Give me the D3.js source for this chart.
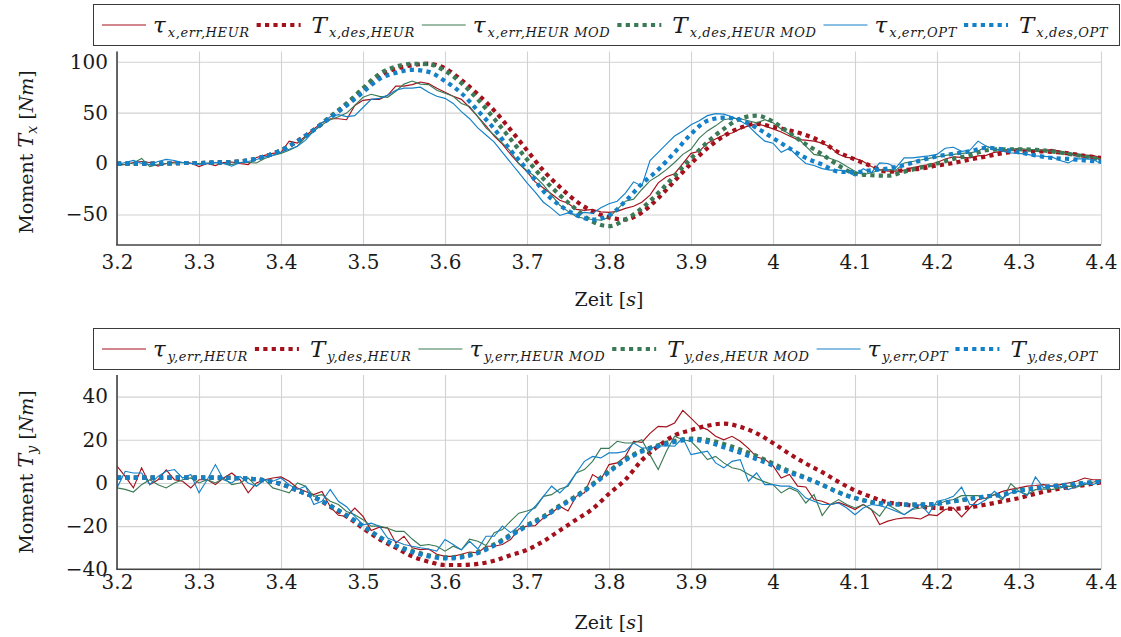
<!DOCTYPE html>
<html lang="de">
<head>
<meta charset="UTF-8" />
<title>Moment T_x / T_y</title>
<style>
  body { margin: 0; background: #fff; }
  svg text { font-family: "DejaVu Serif", serif; fill: #1a1a1a; }
</style>
<script src="https://d3js.org/d3.v7.min.js"></script>
</head>
<body>
<svg id="chart" width="1121" height="637"></svg>
<script>
// sample times: err signals every 0.01 s, desired torques every 0.02 s
const tErr = d3.range(121).map(i => Math.round((3.2 + i * 0.01) * 100) / 100);
const tDes = d3.range(61).map(i => Math.round((3.2 + i * 0.02) * 100) / 100);

const xTicks = [3.2, 3.3, 3.4, 3.5, 3.6, 3.7, 3.8, 3.9, 4.0, 4.1, 4.2, 4.3, 4.4];
const xTickLabels = ["3.2", "3.3", "3.4", "3.5", "3.6", "3.7", "3.8", "3.9", "4", "4.1", "4.2", "4.3", "4.4"];
const yTicksX = [-50, 0, 50, 100];
const yTicksY = [-40, -20, 0, 20, 40];

// ---- Moment T_x ----
const txErrHeur = [
  -1, -1, 1, 2, 1, -2.5, 0, 1.5, 1, 0.5,
  -3, 0, -2, 1, 1.5, 0, -1, 6, 8, 10,
  11, 22, 20, 27, 34, 40, 44, 44, 43, 57,
  62, 63, 63, 67, 76, 76, 77.5, 80, 78.5, 74,
  70, 66, 63, 55, 46, 37, 27, 19, 9, 0,
  -8, -18, -24, -30, -36, -39, -45, -46, -45, -47.5,
  -48, -47, -44, -42, -38, -31, -19, -13, -10, 0,
  10, 12, 20, 24, 28, 30, 34, 37, 39, 37,
  34, 31, 27, 23.5, 23, 22, 20, 16, 9, 6,
  5, 2, -3, -6, -7.5, -7.5, -6.5, -4, -2.5, -1,
  1, 4.5, 6.5, 6, 5.5, 7.5, 8, 11, 12, 13,
  13.5, 12.5, 12, 12, 14, 12, 10, 9, 8, 8,
  5.5
];
const txErrHeurMod = [
  -2, -1, 0.5, 5, -3, -1, 0, 0.5, 1, 0,
  0, 0.5, 1, 0, -1, 1, 1, 0.5, 5, 8,
  10, 13, 17, 26, 32, 38, 43, 46, 49.5, 57,
  65, 68, 66, 65, 71, 78, 81, 78, 77.5, 72,
  69, 66, 59, 56, 46, 35, 28, 20, 12, 0,
  -7, -13, -21, -31, -41, -47, -52, -54, -55, -55.5,
  -53, -45, -37, -35, -25.5, -17, -12, -6, 1, 9,
  14, 25, 32, 37, 43, 44.5, 44, 42, 40, 43,
  40, 34, 29, 25, 17, 9, 7.5, 5, 2, -3,
  -7.5, -11, -9, -6.5, -6, -6.5, 0.6, 2, 3.5, 5,
  6.5, 8, 9, 10, 10.5, 12, 17, 14, 13.7, 14,
  15, 14, 13.7, 13, 12, 11, 10, 8, 7, 6,
  4.6
];
const txErrOpt = [
  -1, 1, 3, 0, -1, 2, 4, 3, 1, 0,
  -1, 0, 1, 0, -2.6, 1, 2, 4, 6.5, 8,
  11, 14, 17, 23, 32, 40, 46, 48, 46, 47,
  55, 63, 64, 67, 72, 74, 74, 75, 70, 66,
  64, 59, 51, 44, 35, 28, 21, 11, 1, -9,
  -19, -28, -38, -44, -51, -48.5, -50, -48, -49, -43.5,
  -39.5, -37, -29, -18, -22, 3, 11, 19, 27, 32,
  38, 42, 47, 49, 48.5, 46, 42, 37, 29, 22,
  20, 11, 15, 7, 0, -2, -5, -6.5, -6.5, -7.5,
  -12.4, -5, -9, 0.6, 0, -4, 5.5, 5.5, 6.5, 7.5,
  9, 15, 16, 12, 13, 22, 17, 14, 12, 10.5,
  10, 9, 7.5, 7, 6.5, 3, 0.6, 4.6, 4.5, 4,
  0
];
const txDesHeur = [
  0, 0, 0, 0, 0.5, 0.5, 1, 1.5, 3, 7,
  13, 22, 33, 45.5, 58, 72, 86, 93, 96.5, 98,
  93.5, 82, 68, 52, 33, 13, -7, -23, -37, -47,
  -53, -55, -48, -34, -17, 0, 15, 27, 35, 39,
  36, 32.5, 28, 21, 11, 4, -2.5, -8, -6.5, -5,
  -2, 0.5, 4, 7, 10, 12, 12, 11.5, 10, 7.5,
  5.5
];
const txDesHeurMod = [
  0, 0, 0, 0, 0.5, 0.5, 1, 1.5, 3, 7,
  13, 22, 33, 46, 59, 74, 88, 95, 98, 97.5,
  91, 79, 63, 44, 24, 4, -15, -31, -45, -57,
  -61.5, -55, -44, -29, -12, 5, 21, 34, 44, 47,
  41, 30, 19, 9, -2, -10, -11.5, -12, -8, -4,
  0, 4.5, 8, 13, 14, 14, 13.5, 12, 9.5, 7,
  4
];
const txDesOpt = [
  0, 0, 0, 0, 0.5, 0.5, 1, 1.5, 3, 7,
  13, 22, 33, 45, 57, 70, 83, 89, 92, 90,
  81, 69, 52, 34, 13, -6, -27, -41, -50.5, -55,
  -51, -37, -20, -6, 11, 29, 42, 45, 43, 35,
  25, 15, 5.5, -1, -8, -8.5, -6.5, -5, -1.5, 3,
  7, 9.5, 12, 15.5, 14, 11, 8, 5.5, 4.5, 3,
  2
];

// ---- Moment T_y ----
const tyErrHeur = [
  7.8, 3, -2.3, 7, -0.8, 1.5, 6, 1.5, 0.8, -2.3,
  1.5, 1.5, -0.8, 2.3, 4.6, 1.5, -4.6, 0, 1.5, 2.3,
  2.8, 0.8, -2.3, -4, -5.4, -4, -11, -15, -15.5, -11.6,
  -15.5, -22, -20.5, -20.8, -27.8, -24.7, -30, -30.9, -30.6, -33,
  -34, -34, -33, -32, -32.4, -29.3, -29.3, -28.5, -26.2, -21.3,
  -20, -19.8, -16.2, -13.9, -10.8, -13, -6.2, -4.6, 3.9, 1.5,
  8.5, 9.3, 12.3, 19.3, 18.8, 23, 26.2, 26, 27.8, 33.6,
  30, 26.2, 24.7, 21.6, 20, 21.6, 19.3, 16, 12, 11,
  8, 2.3, 3.9, -1.5, -1.9, -7.7, -8.5, -10, -9, -10.5,
  -12.3, -10, -12.3, -19.3, -17.7, -16.7, -16.2, -16.2, -16.7, -14.7,
  -15.1, -12.3, -11.6, -15.7, -11.6, -7.7, -7, -5.4, -3.9, -3,
  -2.3, -1.5, -1.2, -0.8, -1.5, -0.8, 0, 0.8, 2.3, 1.5,
  1.5
];
const tyErrHeurMod = [
  -2.3, -3, -4.2, -0.8, 1.5, -0.8, -2.3, 0, 1.5, 2.3,
  0, 1.5, 0, 2.3, -0.8, 0, 2.3, -1.5, 1.5, -2.3,
  -3.4, -4.6, 0, -1.5, -6.2, -5.4, -8.5, -10, -13.2, -14.7,
  -17, -20, -20, -21, -22.4, -22.4, -26, -29, -28.5, -29.3,
  -31.6, -29.3, -31, -26, -27, -29, -23, -21.6, -17.7, -14,
  -13, -11.6, -6.2, -5.4, -2.8, -1.5, 4.6, 6.2, 10, 16,
  16, 19.3, 18.5, 18.5, 20, 13, 6.2, 14.7, 21.6, 20,
  19.3, 15.4, 10.8, 12.3, 9.3, 7, 6.2, 4, 2, 0.5,
  -0.8, -4.6, -2.3, -3.9, -9.3, -5.4, -15.1, -10, -7.7, -10,
  -11.6, -10, -12.3, -15.4, -10, -12.3, -14.7, -12.3, -11.6, -10.8,
  -10, -8.5, -7.7, -5.9, -5.9, -5.9, -7.4, -5.4, -7.7, -0.3,
  -3.9, -5.4, -3.1, -2.8, -3.1, -2.3, -1.5, -1.9, -0.8, 0.3,
  1.2
];
const tyErrOpt = [
  -2.3, 5.4, 4.6, 4.6, -0.8, 3, 5.4, 6.2, 2.3, 3.9,
  -4.6, 1.5, 8.5, 1.5, 0, 3, 0, -1.5, 1.5, 0.8,
  2.3, -0.8, -3, -1.5, -10, -8.5, -3, -8.5, -11, -15.5,
  -19.4, -18.6, -20, -25.5, -27, -28.5, -29.3, -30, -30.6, -31.6,
  -26.2, -28.5, -31, -27, -30.6, -24.7, -24.7, -20, -23, -20,
  -14.7, -10.8, -6.2, -1.5, -4.6, -0.8, 4.6, 10, 12.3, 11.6,
  13.9, 13.9, 14.7, 18.5, 16.2, 16.2, 17, 17.3, 17, 20.8,
  13.1, 13.9, 14.7, 9.3, 7, 10, 10.8, 0.8, 4.6, -0.8,
  -0.8, -1.5, -1.5, -3.1, -7, -8.5, -10, -10, -9.3, -11.6,
  -14.7, -11.6, -10, -10.5, -11.6, -13.1, -14.7, -12, -10, -14.2,
  -8.5, -7.7, -6.2, -1.9, -10, -10, -7.7, -3.9, -7, -4.6,
  -3.9, -5.9, 2.8, -2.3, -1.5, -1.5, -3.1, -1.5, 0, -0.8,
  0.8
];
const tyDesHeur = [
  2.5, 2.5, 2.5, 2.5, 2.5, 2.5, 2.5, 2.3, 2, 1.2,
  -0.5, -3.5, -6.5, -11, -15.5, -21, -26, -30, -34, -36.5,
  -38, -38, -37.5, -36, -33.5, -31, -27, -22, -17, -12,
  -5, 1.5, 10.5, 17, 22, 24.5, 26.5, 27.5, 26, 23,
  18.5, 13.5, 9, 5, 0.5, -3.5, -6.5, -9, -10, -11,
  -11.6, -12, -11.3, -10, -8.5, -7, -5, -3.3, -2, -1,
  0.3
];
const tyDesHeurMod = [
  2.5, 2.5, 2.5, 2.5, 2.5, 2.5, 2.5, 2.3, 2, 1.2,
  -0.5, -3.5, -6.5, -10.5, -15, -20, -25, -29, -31.5, -33.5,
  -34.5, -34, -32, -28.5, -24, -19.5, -15.5, -10.5, -6, -0.5,
  5.5, 11, 15, 17.5, 19.5, 20.5, 20, 18, 15.5, 12.5,
  9, 5.5, 2.5, -0.8, -4.3, -7, -8.8, -9.7, -10, -10,
  -9.6, -8.5, -7.4, -6.2, -5.4, -3.5, -2.5, -1.5, -0.8, 0,
  0.5
];
const tyDesOpt = [
  2.5, 2.5, 2.5, 2.5, 2.5, 2.5, 2.5, 2.3, 2, 1.2,
  -0.5, -3.5, -6.5, -10.5, -15, -20, -25, -29, -32, -34,
  -35, -34.5, -32.5, -29, -24.5, -20, -16, -11, -6.5, -1,
  5, 10.5, 14.5, 17, 19, 20, 19, 16.5, 14, 11,
  8, 4.8, 2.2, -1, -4.5, -7, -8.8, -9.7, -10, -10,
  -9.6, -8.5, -7.4, -6.2, -5.4, -3.5, -2.5, -1.5, -0.8, 0,
  0.5
];

const RED = "#a4111b", GREEN = "#3b7a56", BLUE = "#1380c8";

const svg = d3.select("#chart");
const x = d3.scaleLinear().domain([3.2, 4.4]).range([117, 1101]);

function seriesList(ax, errH, desH, errM, desM, errO, desO) {
  return [
    { sym: "\u03c4", sub: ax + ",err,HEUR", color: RED, dotted: false, t: tErr, v: errH },
    { sym: "T", sub: ax + ",des,HEUR", color: RED, dotted: true, t: tDes, v: desH },
    { sym: "\u03c4", sub: ax + ",err,HEUR MOD", color: GREEN, dotted: false, t: tErr, v: errM },
    { sym: "T", sub: ax + ",des,HEUR MOD", color: GREEN, dotted: true, t: tDes, v: desM },
    { sym: "\u03c4", sub: ax + ",err,OPT", color: BLUE, dotted: false, t: tErr, v: errO },
    { sym: "T", sub: ax + ",des,OPT", color: BLUE, dotted: true, t: tDes, v: desO }
  ];
}

function styleLine(sel, s) {
  sel.attr("fill", "none").attr("stroke", s.color);
  if (s.dotted) sel.attr("stroke-width", 4.2).attr("stroke-dasharray", "4.2 4.2");
  else sel.attr("stroke-width", 1.15);
}

function panel(cfg) {
  const y = d3.scaleLinear().domain(cfg.yDomain).range([cfg.bottom, cfg.top]);
  const h = cfg.bottom - cfg.top;
  const g = svg.append("g");

  // grid + tick labels
  const gx = g.append("g").attr("transform", `translate(0,${cfg.bottom})`)
    .call(d3.axisBottom(x).tickValues(xTicks).tickSize(-h).tickSizeOuter(0)
      .tickPadding(cfg.xPad).tickFormat((d, i) => xTickLabels[i]));
  const gy = g.append("g").attr("transform", "translate(117,0)")
    .call(d3.axisLeft(y).tickValues(cfg.yTicks).tickSize(-(1101 - 117)).tickSizeOuter(0)
      .tickPadding(9).tickFormat(d3.format("d")));
  [gx, gy].forEach(a => {
    a.attr("font-family", null).attr("font-size", null);
    a.selectAll(".tick line").attr("stroke", "#d2d2d2").attr("stroke-width", 1.1);
    a.selectAll(".tick text").attr("font-size", 20).attr("fill", "#1a1a1a");
    a.select(".domain").remove();
  });

  // series
  const clipId = "clip" + cfg.id;
  svg.append("clipPath").attr("id", clipId).append("rect")
    .attr("x", 117).attr("y", cfg.top).attr("width", 1101 - 117).attr("height", h);
  const plot = g.append("g").attr("clip-path", `url(#${clipId})`);
  cfg.series.forEach(s => {
    const line = d3.line()
      .x((d, i) => x(s.t[i]))
      .y(d => y(d))
      .curve(s.dotted ? d3.curveMonotoneX : d3.curveLinear);
    plot.append("path").datum(s.v).attr("d", line).call(styleLine, s);
  });

  // axis lines
  g.append("line").attr("x1", 117).attr("x2", 117).attr("y1", cfg.top).attr("y2", cfg.bottom)
    .attr("stroke", "#444").attr("stroke-width", 1.6);
  g.append("line").attr("x1", 116.2).attr("x2", 1101).attr("y1", cfg.bottom).attr("y2", cfg.bottom)
    .attr("stroke", "#444").attr("stroke-width", 1.6);

  // axis labels
  g.append("text").attr("x", 609).attr("y", cfg.xLabelY).attr("text-anchor", "middle")
    .attr("font-size", 19)
    .call(t => {
      t.append("tspan").text("Zeit [");
      t.append("tspan").attr("font-style", "italic").text("s");
      t.append("tspan").text("]");
    });
  g.append("text").attr("text-anchor", "middle").attr("font-size", 19)
    .attr("transform", `translate(33,${cfg.yLabelMid}) rotate(-90)`)
    .call(t => {
      t.append("tspan").text("Moment ");
      t.append("tspan").attr("font-style", "italic").attr("font-size", 21).text("T");
      t.append("tspan").attr("font-style", "italic").attr("font-size", 14).attr("dy", 4).text(cfg.axis);
      t.append("tspan").attr("dy", -4).text(" [");
      t.append("tspan").attr("font-style", "italic").text("Nm");
      t.append("tspan").text("]");
    });

  // legend
  const lg = svg.append("g");
  lg.append("rect").attr("x", 93.5).attr("y", cfg.legendTop + 0.5).attr("width", 1026).attr("height", 41)
    .attr("fill", "#fff").attr("stroke", "#3a3a3a").attr("stroke-width", 1);
  const mid = cfg.legendTop + 21;
  let lx = 102;
  cfg.series.forEach(s => {
    lg.append("line").attr("x1", lx).attr("x2", lx + 44).attr("y1", mid).attr("y2", mid).call(styleLine, s);
    lx += 44 + (s.dotted ? 11 : 7);
    const t = lg.append("text").attr("x", lx).attr("y", mid + 8).attr("font-style", "italic");
    t.append("tspan").attr("font-size", 23).text(s.sym);
    t.append("tspan").attr("font-size", 13).attr("dy", 4).attr("letter-spacing", 0.6).attr("dx", 2).text(s.sub);
    lx += t.node().getComputedTextLength() + 9;
  });
}

panel({
  id: "x", axis: "x", top: 51.5, bottom: 245, yDomain: [-80, 110], yTicks: yTicksX,
  xPad: 10, xLabelY: 306, yLabelMid: 152, legendTop: 4,
  series: seriesList("x", txErrHeur, txDesHeur, txErrHeurMod, txDesHeurMod, txErrOpt, txDesOpt)
});
panel({
  id: "y", axis: "y", top: 375, bottom: 569.3, yDomain: [-40, 50], yTicks: yTicksY,
  xPad: 6, xLabelY: 629, yLabelMid: 472, legendTop: 328,
  series: seriesList("y", tyErrHeur, tyDesHeur, tyErrHeurMod, tyDesHeurMod, tyErrOpt, tyDesOpt)
});
</script>
</body>
</html>
